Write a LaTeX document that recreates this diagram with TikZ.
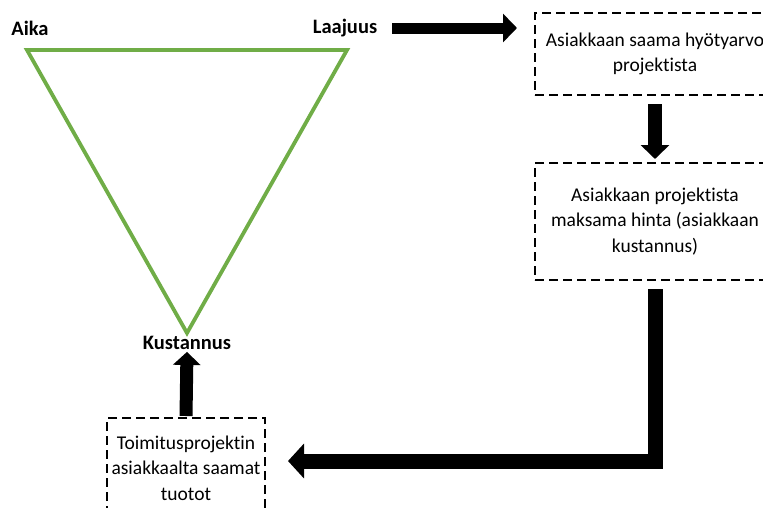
\documentclass[tikz,border=0pt]{standalone}
\usepackage{fontspec}
\setmainfont{Carlito}[Ligatures=NoCommon]
\usetikzlibrary{arrows.meta}
\definecolor{trigreen}{RGB}{112,173,71}
\tikzset{
  corner/.style={font=\fontsize{20.5}{24}\selectfont\bfseries, inner sep=0pt},
  dashbox/.style={draw, line width=2pt, dash pattern=on 9pt off 5pt,
    align=center, inner sep=0pt, font=\fontsize{19.5}{25.5}\selectfont},
  fatarrow/.style={line width=#1, -{Triangle[length=14pt,width=28pt]}},
  fatarrow/.default=11pt,
  triedge/.style={draw=trigreen, line width=3.8pt, line join=miter}
}
\begin{document}
\begin{tikzpicture}[x=1pt,y=-1pt]
  \useasboundingbox (0,0) rectangle (763,507);
  \clip (0,0) rectangle (763,507);

  % triangle of scope, time and cost
  \coordinate (tl) at (27,50);
  \coordinate (tr) at (347,50);
  \coordinate (tb) at (187,333);
  \draw[triedge] (tl) -- (tr) -- (tb) -- cycle;

  \node[corner] (aika) at (30,28) {Aika};
  \node[corner] (laajuus) at (345,28) {Laajuus};
  \node[corner] (kustannus) at (187,343) {Kustannus};

  % dashed boxes of the value chain
  \node[dashbox, minimum width=240pt, minimum height=82pt] (hyoty) at (655,54)
    {Asiakkaan saama hyötyarvo\\projektista};
  \node[dashbox, minimum width=240pt, minimum height=117pt] (hinta) at (655,221.5)
    {Asiakkaan projektista\\maksama hinta (asiakkaan\\kustannus)};
  \node[dashbox, minimum width=158pt, minimum height=100pt] (tuotot) at (186,468)
    {Toimitusprojektin\\asiakkaalta saamat\\tuotot};

  % connecting arrows
  \draw[fatarrow, shorten <=15pt, shorten >=17pt]
    (laajuus.east) -- (laajuus.east -| hyoty.west);
  \draw[fatarrow=14pt, shorten <=8pt, shorten >=3pt]
    (hyoty.south) -- (hinta.north);
  \coordinate (bend) at (655,461);
  \draw[fatarrow=15pt, -{Triangle[length=16pt,width=34pt]}, line join=miter,
        shorten <=8pt, shorten >=22pt]
    (hinta.south) -- (bend) -- (bend -| tuotot.east);
  \draw[fatarrow=13pt, -{Triangle[length=13pt,width=27pt]}, shorten <=1pt, shorten >=2pt]
    (tuotot.north) -- (kustannus.south);
\end{tikzpicture}
\end{document}
